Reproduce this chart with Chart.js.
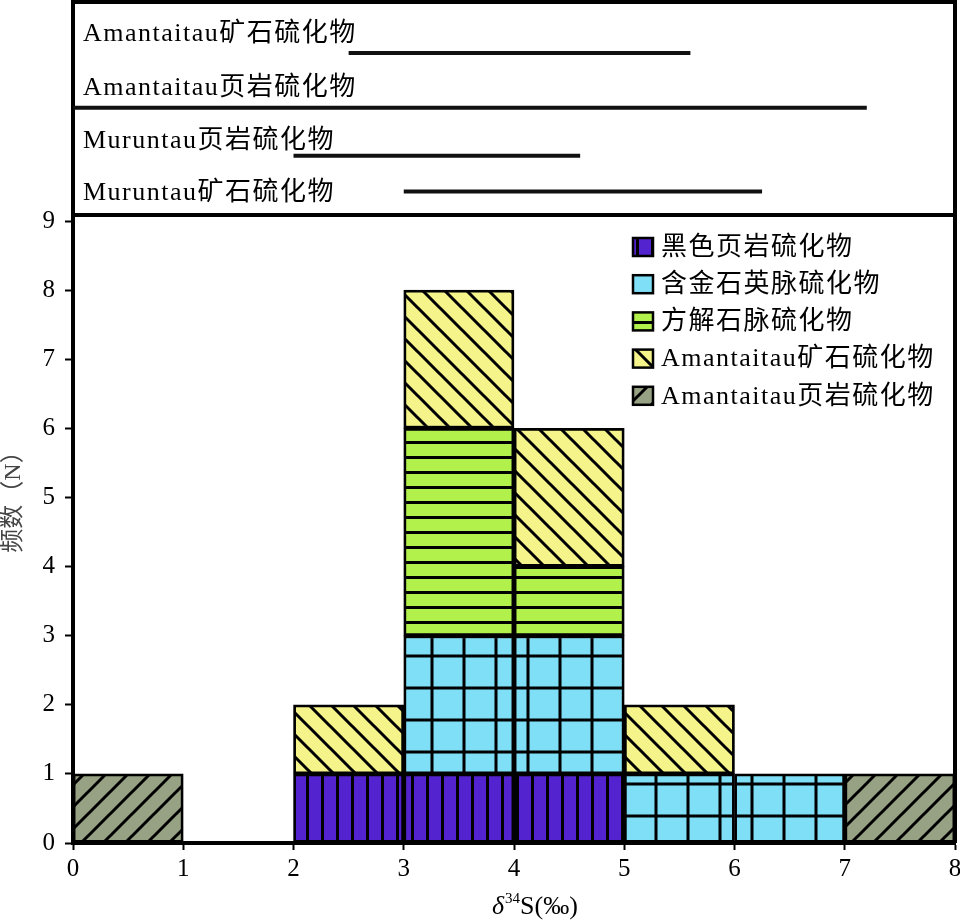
<!DOCTYPE html>
<html>
<head>
<meta charset="utf-8">
<script src="https://cdn.jsdelivr.net/npm/chart.js@4.4.1/dist/chart.umd.min.js"></script>
<style>
  html, body { margin: 0; padding: 0; background: #fff; }
  #wrap { width: 960px; height: 920px; position: relative; }
</style>
</head>
<body>
<div id="wrap"><canvas id="hist-chart"></canvas></div>
<script>
// histogram bins (left edge of each 1‰ bin)
var binStarts = [0, 1, 2, 3, 4, 5, 6, 7];

var seriesNames = ["黑色页岩硫化物", "含金石英脉硫化物", "方解石脉硫化物", "Amantaitau矿石硫化物", "Amantaitau页岩硫化物"];
var blackShale  = [null, null, 1, 1, 1, null, null, null];
var quartzVein  = [null, null, null, 2, 2, 1, 1, null];
var calciteVein = [null, null, null, 3, 1, null, null, null];
var amOre       = [null, null, 1, 2, 2, 1, null, null];
var amShale     = [1, null, null, null, null, null, null, 1];

// δ34S ranges shown in the top panel
var rangeNames = ["Amantaitau矿石硫化物", "Amantaitau页岩硫化物", "Muruntau页岩硫化物", "Muruntau矿石硫化物"];
var rangeLow   = [2.5, 0, 2.0, 3.0];
var rangeHigh  = [5.6, 7.2, 4.6, 6.25];

var xTickLabels = ["0", "1", "2", "3", "4", "5", "6", "7", "8"];
var yTickLabels = ["0", "1", "2", "3", "4", "5", "6", "7", "8", "9"];

// row placement inside the top panel (y2 units, 0 = top)
var rowLine = [0.93, 1.93, 2.81, 3.46];
var rowText = [0.71, 1.70, 2.67, 3.62];
var panelBottom = 3.89;

var SERIF = '"Liberation Serif", "Noto Sans CJK SC", serif';

function makePattern(bg, kind) {
    var s = { v: 15, h: 15, grid: 32, bs: 22, fs: 22 }[kind];
    var c = document.createElement('canvas');
    c.width = s; c.height = s;
    var g = c.getContext('2d');
    g.fillStyle = bg;
    g.fillRect(0, 0, s, s);
    g.strokeStyle = '#000';
    g.lineWidth = 3;
    g.beginPath();
    if (kind === 'v' || kind === 'grid') { g.moveTo(s / 2, 0); g.lineTo(s / 2, s); }
    if (kind === 'h' || kind === 'grid') { g.moveTo(0, s / 2); g.lineTo(s, s / 2); }
    if (kind === 'bs') {
        for (var k = -1; k <= 1; k++) { g.moveTo(-2, k * s - 2); g.lineTo(s + 2, k * s + s + 2); }
    }
    if (kind === 'fs') {
        for (var j = 0; j <= 2; j++) { g.moveTo(-2, j * s + 2); g.lineTo(s + 2, j * s - s - 2); }
    }
    g.stroke();
    return g.createPattern(c, 'repeat');
}

function binData(values) {
    var out = [];
    for (var i = 0; i < binStarts.length; i++) {
        if (values[i] !== null) out.push({ x: binStarts[i] + 0.5, y: values[i] });
    }
    return out;
}

var fills = [
    makePattern('#5323cf', 'v'),
    makePattern('#7fdff7', 'grid'),
    makePattern('#b2f04c', 'h'),
    makePattern('#f4f48a', 'bs'),
    makePattern('#97a183', 'fs')
];
var seriesValues = [blackShale, quartzVein, calciteVein, amOre, amShale];

var datasets = seriesValues.map(function (vals, i) {
    return {
        label: seriesNames[i],
        data: binData(vals),
        backgroundColor: fills[i],
        borderColor: '#000',
        borderWidth: 2.8,
        borderSkipped: false,
        barPercentage: 1,
        categoryPercentage: 1,
        xAxisID: 'x',
        yAxisID: 'y'
    };
});

rangeNames.forEach(function (name, i) {
    datasets.push({
        type: 'line',
        label: name,
        data: [{ x: rangeLow[i], y: rowLine[i] }, { x: rangeHigh[i], y: rowLine[i] }],
        xAxisID: 'x',
        yAxisID: 'y2',
        borderColor: '#111',
        borderWidth: 4,
        borderCapStyle: 'butt',
        pointRadius: 0,
        fill: false
    });
});

var decorations = {
    id: 'decorations',
    afterDraw: function (chart) {
        var ctx = chart.ctx, a = chart.chartArea, y2 = chart.scales.y2;
        ctx.save();
        ctx.strokeStyle = '#000';
        ctx.lineWidth = 4;
        ctx.beginPath();
        ctx.moveTo(a.left - 2, a.top);
        ctx.lineTo(a.right, a.top);
        ctx.lineTo(a.right, a.bottom);
        var py = y2.getPixelForValue(panelBottom);
        ctx.moveTo(a.left, py);
        ctx.lineTo(a.right, py);
        ctx.stroke();

        // top panel row labels
        ctx.fillStyle = '#000';
        ctx.font = '26px ' + SERIF;
        ctx.letterSpacing = '1.5px';
        ctx.textAlign = 'left';
        ctx.textBaseline = 'alphabetic';
        rangeNames.forEach(function (name, i) {
            ctx.fillText(name, a.left + 10, y2.getPixelForValue(rowText[i]));
        });

        // legend
        ctx.textBaseline = 'middle';
        seriesNames.forEach(function (name, i) {
            var cy = 247 + i * 37.2;
            ctx.fillStyle = fills[i];
            ctx.fillRect(633, cy - 9, 20, 18);
            ctx.lineWidth = 2.5;
            ctx.strokeRect(633, cy - 9, 20, 18);
            ctx.fillStyle = '#000';
            ctx.fillText(name, 661, cy + 1);
        });
        ctx.letterSpacing = '0px';

        // x axis title: δ34S(‰)
        var tx = 492, ty = 914;
        ctx.textBaseline = 'alphabetic';
        ctx.font = 'italic 26px ' + SERIF;
        ctx.fillText('δ', tx, ty);
        tx += ctx.measureText('δ').width + 1;
        ctx.font = '15px ' + SERIF;
        ctx.fillText('34', tx, ty - 11);
        tx += ctx.measureText('34').width;
        ctx.font = '26px ' + SERIF;
        ctx.fillText('S(‰)', tx, ty);

        // y axis title
        ctx.translate(14, 496);
        ctx.rotate(-Math.PI / 2);
        ctx.font = '24px ' + SERIF;
        ctx.fillStyle = '#444';
        ctx.textAlign = 'center';
        ctx.textBaseline = 'middle';
        ctx.fillText('频数（N）', 0, 0);
        ctx.restore();
    }
};

var tickFont = { family: SERIF, size: 25 };

var options = {
    responsive: true,
    maintainAspectRatio: false,
    animation: false,
    layout: { padding: { top: 2, right: 5, left: 0, bottom: 0 } },
    plugins: {
        legend: { display: false },
        tooltip: { enabled: false }
    },
    scales: {
        x: {
            type: 'linear', min: 0, max: 8, stacked: true, offset: false,
            ticks: {
                stepSize: 1, font: tickFont, color: '#000', padding: 4,
                callback: function (v) { return xTickLabels[v]; }
            },
            grid: { offset: false, drawOnChartArea: false, tickLength: 7, tickWidth: 2, tickColor: '#000' },
            border: { color: '#000', width: 4 },
            afterFit: function (s) { s.height = 77; s.paddingLeft = 0; s.paddingRight = 0; }
        },
        y: {
            type: 'linear', min: 0, max: 9, stacked: true,
            position: 'left', stack: 'v', stackWeight: 622,
            ticks: {
                stepSize: 1, font: tickFont, color: '#000', padding: 10,
                callback: function (v) { return yTickLabels[v]; }
            },
            grid: { drawOnChartArea: false, tickLength: 8, tickWidth: 2, tickColor: '#000' },
            border: { color: '#000', width: 4 },
            afterFit: function (s) { s.width = 73; s.paddingTop = 0; s.paddingBottom = 0; }
        },
        y2: {
            type: 'linear', min: 0, max: 4, reverse: true,
            position: 'left', stack: 'v', stackWeight: 219,
            ticks: { display: false },
            grid: { display: false },
            border: { color: '#000', width: 4 },
            afterFit: function (s) { s.width = 73; s.paddingTop = 0; s.paddingBottom = 0; }
        }
    }
};

var ctx = document.getElementById('hist-chart');
new Chart(ctx, {
    type: 'bar',
    data: { datasets: datasets },
    options: options,
    plugins: [decorations]
});
</script>
</body>
</html>
